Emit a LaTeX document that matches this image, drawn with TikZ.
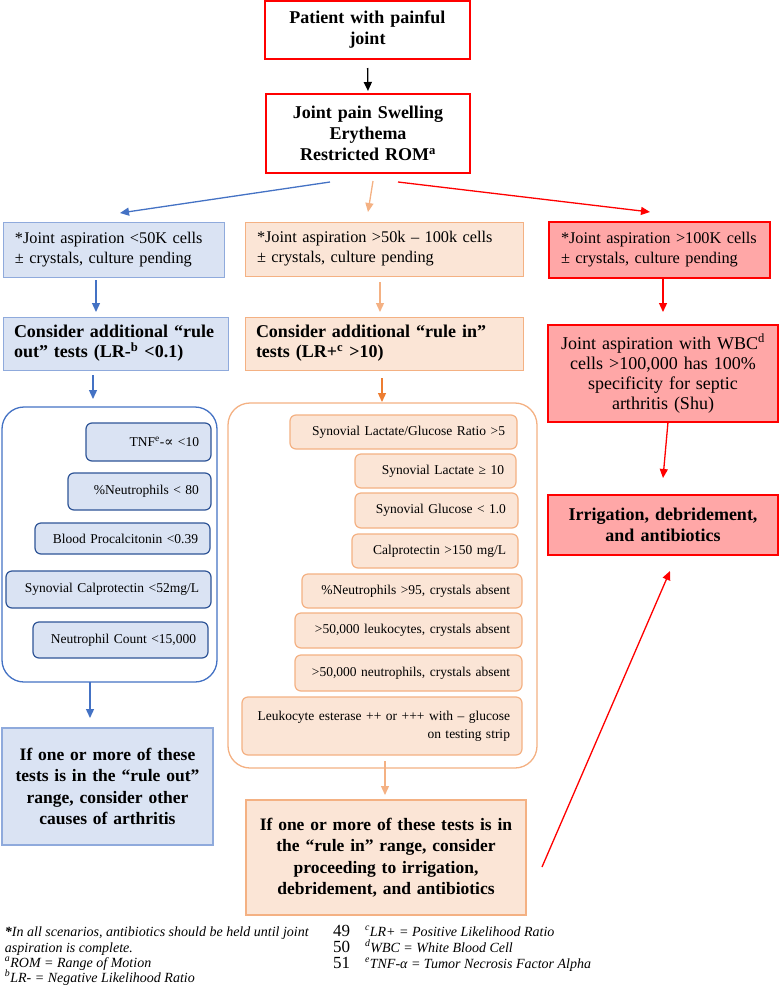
\documentclass[tikz,border=0pt]{standalone}
\usepackage{fontspec}
\setmainfont{Liberation Serif}
\newfontfamily\symfnt{DejaVu Serif}
\usetikzlibrary{arrows.meta,calc}
\definecolor{bfill}{HTML}{DAE3F3}
\definecolor{bline}{HTML}{8FAADC}
\definecolor{bdark}{HTML}{4472C4}
\definecolor{bnavy}{HTML}{2F5597}
\definecolor{ofill}{HTML}{FBE5D6}
\definecolor{oline}{HTML}{F4B183}
\definecolor{odark}{HTML}{ED7D31}
\definecolor{rfill}{HTML}{FFA7A7}
\definecolor{rline}{HTML}{FF0000}
\tikzset{
  every node/.style={inner ysep=0pt, outer sep=0pt},
  topbox/.style={draw=rline, fill=white, line width=1.4pt, anchor=north west, align=center, inner xsep=4pt, font=\fontsize{18}{21}\selectfont\bfseries},
  jbox/.style={anchor=north west, align=left, inner xsep=12pt, line width=1pt, font=\fontsize{16.3}{20}\selectfont},
  cbox/.style={anchor=north west, align=left, inner xsep=11pt, line width=1pt, font=\fontsize{18}{20}\selectfont\bfseries},
  bluestyle/.style={fill=bfill, draw=bline},
  orstyle/.style={fill=ofill, draw=oline},
  redstyle/.style={fill=rfill, draw=rline, line width=1.4pt},
  cont/.style={anchor=north west, rounded corners=22pt, line width=1.3pt, fill=white},
  bsub/.style={anchor=north west, rounded corners=6pt, fill=bfill, draw=bnavy, line width=1.2pt, align=right, inner xsep=12pt, font=\fontsize{13.5}{16}\selectfont},
  osub/.style={anchor=north west, rounded corners=6pt, fill=ofill, draw=oline, line width=1.2pt, align=right, inner xsep=12pt, font=\fontsize{13.5}{16}\selectfont},
  finalbox/.style={anchor=north west, align=center, inner xsep=2pt, line width=1.2pt, font=\fontsize{17.5}{21.5}\selectfont\bfseries},
  tip/.style={-{Triangle[length=9pt,width=8pt]}, line width=1.3pt},
  fnote/.style={anchor=base west, inner sep=0pt, font=\fontsize{14}{15.5}\selectfont\itshape},
  fnum/.style={anchor=base west, inner sep=0pt, font=\fontsize{17}{16}\selectfont}
}
\begin{document}
\begin{tikzpicture}[x=1pt,y=-1pt]
\useasboundingbox (0,0) rectangle (779,986);

% top boxes
\node[topbox, minimum width=205pt, minimum height=58pt, text width=197pt] (box1) at (265,1) {Patient with painful\\joint};
\node[topbox, minimum width=204pt, minimum height=79pt, text width=196pt] (box2) at (266,94) {Joint pain Swelling\\Erythema\\Restricted ROM\textsuperscript{a}};

% aspiration boxes
\node[jbox, bluestyle, minimum width=221pt, minimum height=55pt, text width=197pt] (ja1) at (3,222) {*Joint aspiration <50K cells\\± crystals, culture pending};
\node[jbox, orstyle, minimum width=278pt, minimum height=54pt, text width=254pt] (ja2) at (245,222) {*Joint aspiration >50k – 100k cells\\± crystals, culture pending};
\node[jbox, redstyle, minimum width=221pt, minimum height=56pt, text width=197pt] (ja3) at (549,222) {*Joint aspiration >100K cells\\± crystals, culture pending};

% consider boxes
\node[cbox, bluestyle, minimum width=225pt, minimum height=53pt, text width=203pt] (ca1) at (3,317) {Consider additional “rule\\out” tests (LR-\textsuperscript{b} <0.1)};
\node[cbox, orstyle, minimum width=278pt, minimum height=53pt, text width=256pt] (ca2) at (245,317) {Consider additional “rule in”\\tests (LR+\textsuperscript{c} >10)};

% right column
\node[redstyle, anchor=north west, align=center, inner xsep=4pt, minimum width=230pt, minimum height=97pt, text width=222pt, font=\fontsize{18}{20}\selectfont] (wbc) at (548,325) {Joint aspiration with WBC\textsuperscript{d}\\cells >100,000 has 100\%\\specificity for septic\\arthritis (Shu)};
\node[redstyle, anchor=north west, align=center, inner xsep=4pt, minimum width=230pt, minimum height=60pt, text width=222pt, font=\fontsize{18}{21}\selectfont\bfseries] (irr) at (548,495) {Irrigation, debridement,\\and antibiotics};

% blue container
\node[cont, draw=bdark, minimum width=215pt, minimum height=275pt] (bc) at (2,407) {};
\node[bsub, minimum width=125pt, minimum height=38pt, text width=101pt] (b1) at (86,423) {TNF\textsuperscript{e}-{\symfnt ∝} <10};
\node[bsub, minimum width=143pt, minimum height=37pt, text width=119pt] (b2) at (68,473) {\%Neutrophils < 80};
\node[bsub, minimum width=175pt, minimum height=31pt, text width=151pt] (b3) at (35,523) {Blood Procalcitonin <0.39};
\node[bsub, minimum width=205pt, minimum height=37pt, text width=181pt] (b4) at (6,571) {Synovial Calprotectin <52mg/L};
\node[bsub, minimum width=175pt, minimum height=36pt, text width=151pt] (b5) at (33,622) {Neutrophil Count <15,000};

% orange container
\node[cont, draw=oline, minimum width=309pt, minimum height=365pt] (oc) at (228,403) {};
\node[osub, minimum width=227pt, minimum height=34pt, text width=203pt] (o1) at (290,415) {Synovial Lactate/Glucose Ratio >5};
\node[osub, minimum width=161pt, minimum height=34pt, text width=137pt] (o2) at (355,454) {Synovial Lactate ≥ 10};
\node[osub, minimum width=163pt, minimum height=35pt, text width=139pt] (o3) at (355,493) {Synovial Glucose < 1.0};
\node[osub, minimum width=166pt, minimum height=34pt, text width=142pt] (o4) at (352,534) {Calprotectin >150 mg/L};
\node[osub, minimum width=220pt, minimum height=34pt, text width=196pt] (o5) at (302,574) {\%Neutrophils >95, crystals absent};
\node[osub, minimum width=227pt, minimum height=35pt, text width=203pt] (o6) at (295,613) {>50,000 leukocytes, crystals absent};
\node[osub, minimum width=227pt, minimum height=36pt, text width=203pt] (o7) at (295,655) {>50,000 neutrophils, crystals absent};
\node[osub, minimum width=280pt, minimum height=58pt, text width=256pt, font=\fontsize{13.5}{18}\selectfont] (o8) at (242,697) {Leukocyte esterase ++ or +++ with – glucose\\on testing strip};

% final boxes
\node[finalbox, bluestyle, minimum width=211pt, minimum height=117pt, text width=207pt] (bf) at (2,728) {If one or more of these\\tests is in the “rule out”\\range, consider other\\causes of arthritis};
\node[finalbox, orstyle, minimum width=280pt, minimum height=115pt, text width=276pt] (of) at (246,800) {If one or more of these tests is in\\the “rule in” range, consider\\proceeding to irrigation,\\debridement, and antibiotics};

% connectors
\draw[tip, black, shorten <=9pt, shorten >=3pt] (box1.south) -- (box2.north);
\draw[tip, bdark] ($(box2.south)+(-38,9)$) -- ($(ja1.north)+(6.5,-9)$);
\draw[tip, oline] ($(box2.south)+(5,8)$) -- ($(ja2.north)+(-16,-10)$);
\draw[tip, rline] ($(box2.south)+(30,9)$) -- ($(ja3.north)+(-9.5,-10)$);
\draw[tip, bdark] ($(ja1.south)+(-17.5,3)$) -- ($(ca1.north)+(-19.5,-5)$);
\draw[tip, oline] ($(ja2.south)+(-4,6)$) -- ($(ca2.north)+(-4,-5)$);
\draw[tip, rline] ($(ja3.south)+(3.5,0)$) -- ($(wbc.north)+(0,-13)$);
\draw[tip, rline] ($(wbc.south)+(5,0)$) -- ($(irr.north)+(0,-17)$);
\draw[tip, bdark] ($(ca1.south)+(-22.5,5)$) -- ($(bc.north)+(-16.5,-8)$);
\draw[tip, odark] ($(ca2.south)+(-2,8)$) -- ($(oc.north)+(-0.5,-1)$);
\draw[tip, bdark] ($(bc.south)+(-19.5,0)$) -- ($(bf.north)+(-17.5,-10)$);
\draw[tip, oline] ($(oc.south)+(2.5,-7)$) -- ($(of.north)+(-1,-5)$);
\coordinate (rs) at (542,867);
\draw[tip, rline] (rs) -- ($(irr.south)+(7,16)$);

% footnotes
\node[fnote] (fa) at (5,936) {\textbf{*}In all scenarios, antibiotics should be held until joint};
\node[fnote] (fb) at (5,952) {aspiration is complete.};
\node[fnote] (fc) at (5,967) {\textsuperscript{a}ROM = Range of Motion};
\node[fnote] (fd) at (5,982) {\textsuperscript{b}LR- = Negative Likelihood Ratio};
\node[fnum] (n49) at (333,936) {49};
\node[fnum] (n50) at (333,952) {50};
\node[fnum] (n51) at (333,968) {51};
\node[fnote] (fe) at (365,936) {\textsuperscript{c}LR+ = Positive Likelihood Ratio};
\node[fnote] (ff) at (365,952) {\textsuperscript{d}WBC = White Blood Cell};
\node[fnote] (fg) at (365,968) {\textsuperscript{e}TNF-α = Tumor Necrosis Factor Alpha};
\end{tikzpicture}
\end{document}
